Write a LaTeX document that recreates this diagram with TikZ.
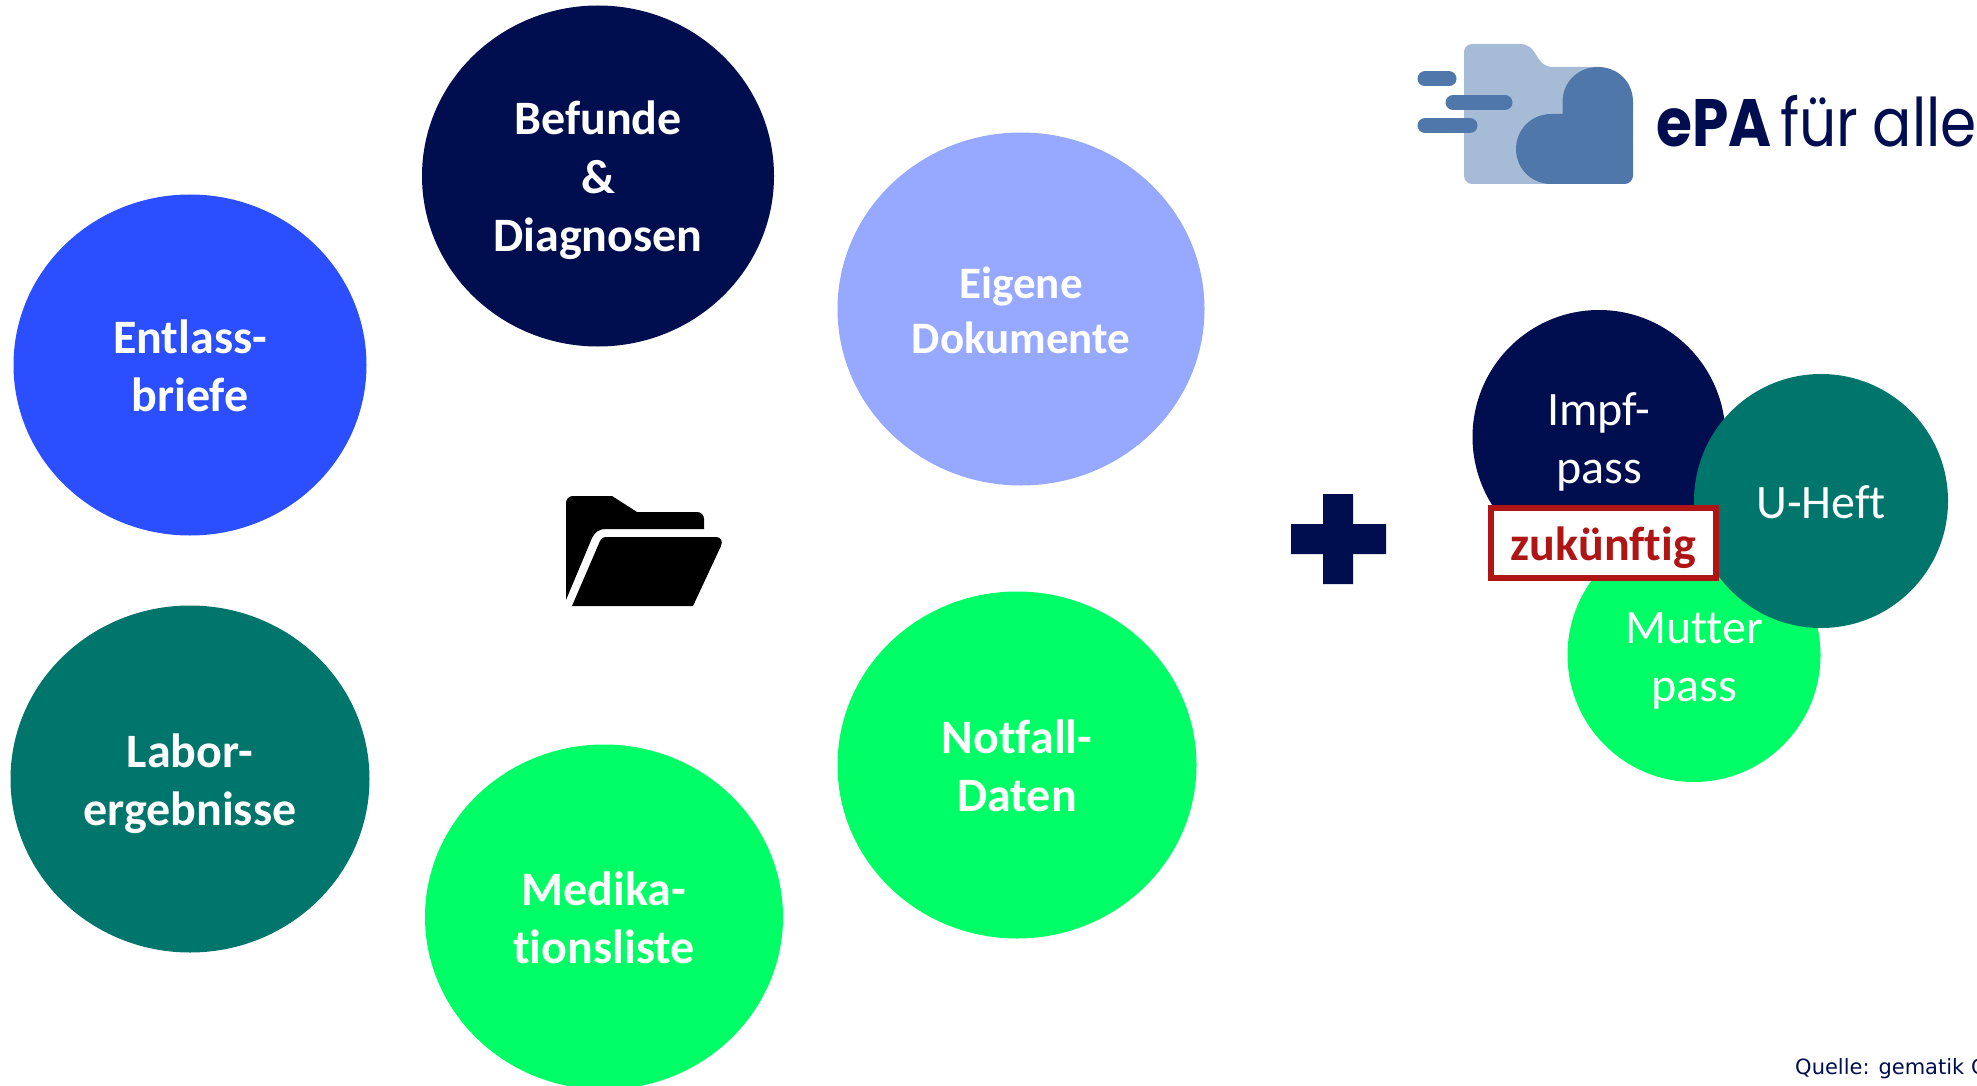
\documentclass[tikz,border=0pt]{standalone}
\usepackage{fontspec}
\setmainfont[Ligatures={NoCommon}]{Carlito}
\newfontfamily\logofont[FakeStretch=0.87,WordSpace=0.55]{Poppins}
\newfontfamily\sourcefont{DejaVu Sans}
\usetikzlibrary{shapes.geometric}
\definecolor{epanavy}{HTML}{000E50}
\definecolor{epablue}{HTML}{2B4FFF}
\definecolor{epalight}{HTML}{96A8FF}
\definecolor{epateal}{HTML}{00756C}
\definecolor{epagreen}{HTML}{00FF66}
\definecolor{epared}{HTML}{B01515}
\definecolor{logodark}{HTML}{4F77A9}
\definecolor{logopale}{HTML}{A6BBD6}
\newcommand{\linetop}{\rule{0pt}{46pt}}
\newcommand{\linebot}{\rule[-12pt]{0pt}{12pt}}
\newcommand{\eigenesize}{\fontsize{45}{54}\selectfont}
\begin{document}
\begin{tikzpicture}
[x=1pt,y=-1pt,
  bubbledecorate/.style={shape=ellipse,inner sep=0pt,text=white,align=center},
  bigtext/.style={font=\fontsize{48}{58}\selectfont\bfseries},
  smalltext/.style={font=\fontsize{48}{58}\selectfont},
  dashdecorate/.style={line width=15pt,line cap=round,draw=logodark}]
\useasboundingbox (0,0) rectangle (1977,1086);
\clip (0,0) rectangle (1977,1086);
%% main bubbles
\foreach \nodename/\x/\y/\w/\h/\shade/\content in {befunde/598/176/352/341/epanavy/{\linetop Befunde\\\&\\Diagnosen\linebot},
  entlass/190/365/353/341/epablue/{\linetop Entlass-\\briefe\linebot},
  eigene/1021/309/367/353/epalight/{\eigenesize\linetop Eigene\\[-3pt]\eigenesize Dokumente\linebot},
  labor/190/779/359/347/epateal/{\linetop Labor-\\ergebnisse\linebot},
  medika/604/917/358/345/epagreen/{\linetop Medika-\\tionsliste\linebot},
  notfall/1017/765/359/347/epagreen/{\linetop Notfall-\\Daten\linebot}} {
  \node (\nodename) at (\x,\y) [bubbledecorate,bigtext,fill=\shade,
    minimum width=\w pt,minimum height=\h pt] {\content};
}
%% folder icon
\fill[black] (566,600) -- (566,503) .. controls (566,499) and (569,496) .. (573,496)
  -- (612,496) -- (637,512) -- (697,512) .. controls (701,512) and (704,515) .. (704,519)
  -- (704,529) -- (606,529) .. controls (599,529) and (595,532) .. (592,538) -- cycle;
\fill[black] (572,606) -- (600,541) .. controls (601,538) and (603,537) .. (606,537)
  -- (716,537) .. controls (721,537) and (723,541) .. (721,546) -- (693,606) -- cycle;
%% plus sign
\fill[epanavy] (1323,494) -- (1353,494) -- (1353,524) -- (1386,524) -- (1386,554)
  -- (1353,554) -- (1353,584) -- (1323,584) -- (1323,554) -- (1291,554)
  -- (1291,524) -- (1323,524) -- cycle;
%% small bubbles
\node (impf) at (1599,437) [bubbledecorate,smalltext,fill=epanavy,
  minimum width=253pt,minimum height=254pt] {\linetop Impf-\\pass\linebot};
\node (mutter) at (1694,655) [bubbledecorate,fill=epagreen,
  minimum width=253pt,minimum height=254pt] {};
\node (uheft) at (1821,501) [bubbledecorate,smalltext,fill=epateal,
  minimum width=254pt,minimum height=254pt] {\linetop U-Heft\linebot};
\node (muttertext) at (mutter.center) [smalltext,text=white,align=center] {\linetop Mutter\\pass\linebot};
\node (zukunft) at (1603.5,543) [draw=epared,line width=6pt,fill=white,text=epared,
  bigtext,inner sep=0pt,minimum width=225pt,minimum height=70pt] {\linetop zukünftig\linebot};
%% logo
\fill[logopale,rounded corners=8pt] (1464,184) -- (1464,44) -- (1529,44)
  -- (1544,67) [sharp corners] -- (1600,67) -- (1600,184) [rounded corners=8pt] -- cycle;
\fill[logodark] (1516,149) .. controls (1516,129) and (1532,114) .. (1551,114)
  -- (1562.5,114) -- (1562.5,102) .. controls (1562.5,82) and (1578,67) .. (1598,67)
  .. controls (1618,67) and (1633,82) .. (1633,102) -- (1633,176)
  .. controls (1633,180) and (1629,184) .. (1625,184) -- (1551,184)
  .. controls (1532,184) and (1516,169) .. (1516,149) -- cycle;
\coordinate (dasha) at (1425,79);
\coordinate (dashb) at (1449,79);
\coordinate (dashc) at (1453,102.5);
\coordinate (dashd) at (1505,102.5);
\coordinate (dashe) at (1425,125.5);
\coordinate (dashf) at (1470,125.5);
\path
\foreach \startnode/\endnode in {dasha/dashb, dashc/dashd, dashe/dashf} {
  (\startnode) edge[dashdecorate] (\endnode)
};
\node (logotext) at (1656,147) [anchor=base west,inner sep=0pt,text=epanavy,
  font=\logofont\fontsize{67}{67}\selectfont] {\textbf{ePA} für\hspace{6pt} alle};
%% source
\node (quelle) at (1795,1074) [anchor=base west,inner sep=0pt,text=epanavy,
  font=\sourcefont\fontsize{21}{24}\selectfont] {Quelle: gematik G};
\end{tikzpicture}
\end{document}
